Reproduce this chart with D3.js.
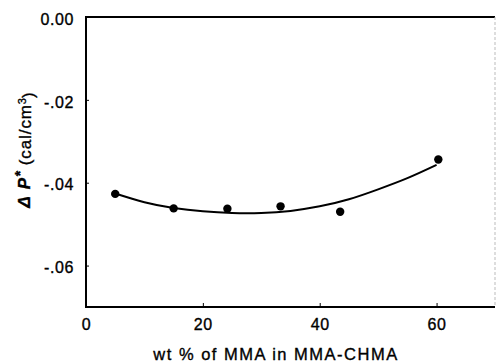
<!DOCTYPE html>
<html>
<head>
<meta charset="utf-8">
<script src="https://cdn.jsdelivr.net/npm/d3@7"></script>
<style>
  html, body { margin: 0; padding: 0; background: #fff; }
  svg { display: block; }
  text { font-family: "Liberation Sans", Arial, Helvetica, sans-serif; fill: #000; stroke: #000; stroke-width: 0.35px; }
</style>
</head>
<body>
<svg id="chart" width="496" height="364"></svg>
<script>
// Measured ΔP* values for MMA-CHMA copolymers
const mmaWt = [5, 15, 24.2, 33.3, 43.5, 60.3];
const deltaP = [-0.0427, -0.0462, -0.0463, -0.0457, -0.0470, -0.0344];

// Smooth trend curve through the data
const curveWt = [5, 10, 15, 20, 25, 30, 35, 40, 45, 50, 55, 60];
const curveP = [-0.0426, -0.0447, -0.0461, -0.0469, -0.0473, -0.0473, -0.0468, -0.0457, -0.0440, -0.0416, -0.0389, -0.0357];

// Axis ticks
const xTicks = [0, 20, 40, 60];
const xTickLabels = ["0", "20", "40", "60"];
const yTicks = [0, -0.02, -0.04, -0.06];
const yTickLabels = ["0.00", "-.02", "-.04", "-.06"];

const svg = d3.select("#chart");
const plotL = 86, plotR = 495, plotT = 17, plotB = 307;

const x = d3.scaleLinear().domain([0, 70]).range([plotL, plotR]);
const y = d3.scaleLinear().domain([-0.07, 0]).range([plotB, plotT]);

// Frame: solid on left, top and bottom, faint on the right
svg.append("path")
  .attr("d", `M${plotR},${plotT}H${plotL}V${plotB}H${plotR}`)
  .attr("fill", "none").attr("stroke", "#000").attr("stroke-width", 2);
svg.append("line")
  .attr("x1", plotR).attr("x2", plotR).attr("y1", plotT).attr("y2", plotB)
  .attr("stroke", "#bbb").attr("stroke-width", 1).attr("stroke-dasharray", "3,2");

// Y axis (inward ticks)
const yAxis = d3.axisLeft(y).tickValues(yTicks).tickSize(-3).tickPadding(12)
  .tickFormat((d, i) => yTickLabels[i]);
const gy = svg.append("g").attr("transform", `translate(${plotL},0)`).call(yAxis);
gy.select(".domain").remove();
gy.selectAll(".tick line").attr("stroke", "#000").attr("stroke-width", 1);
gy.selectAll(".tick text")
  .attr("font-size", 16).attr("letter-spacing", "0.6px")
  .attr("font-family", "'Liberation Sans', Arial, sans-serif")
  .attr("dy", "0.45em");

// X axis (inward ticks)
const xAxis = d3.axisBottom(x).tickValues(xTicks).tickSize(-4).tickPadding(12)
  .tickFormat((d, i) => xTickLabels[i]);
const gx = svg.append("g").attr("transform", `translate(0,${plotB})`).call(xAxis);
gx.select(".domain").remove();
gx.selectAll(".tick line").attr("stroke", "#000").attr("stroke-width", 1);
gx.selectAll(".tick text")
  .attr("font-size", 16).attr("letter-spacing", "0.6px")
  .attr("font-family", "'Liberation Sans', Arial, sans-serif");

// Trend curve
const line = d3.line()
  .x((d, i) => x(curveWt[i]))
  .y(d => y(d))
  .curve(d3.curveNatural);
svg.append("path")
  .datum(curveP)
  .attr("d", line)
  .attr("fill", "none").attr("stroke", "#000").attr("stroke-width", 2);

// Data points
svg.selectAll("circle.pt")
  .data(deltaP)
  .join("circle")
  .attr("class", "pt")
  .attr("cx", (d, i) => x(mmaWt[i]))
  .attr("cy", d => y(d))
  .attr("r", 4.2)
  .attr("fill", "#000");

// X axis title
svg.append("text")
  .attr("x", 276)
  .attr("y", 360)
  .attr("text-anchor", "middle")
  .attr("font-size", 16.5)
  .attr("letter-spacing", "1.5px")
  .attr("word-spacing", "0px")
  .text("wt % of MMA in MMA-CHMA");

// Y axis title
const yt = svg.append("text")
  .attr("transform", "translate(30,150) rotate(-90)")
  .attr("text-anchor", "middle")
  .attr("font-size", 17);
yt.append("tspan").attr("font-weight", "bold").attr("font-style", "italic")
  .attr("font-size", 17).attr("letter-spacing", "1.5px").text("Δ P");
yt.append("tspan").attr("font-weight", "bold").attr("dy", "-0.35em").attr("font-size", 14).text("*");
yt.append("tspan").attr("dy", "0.35em").attr("letter-spacing", "0.9px").text(" (cal/cm");
yt.append("tspan").attr("dy", "-0.45em").attr("font-size", 11).text("3");
yt.append("tspan").attr("dy", "0.45em").text(")");
</script>
</body>
</html>
